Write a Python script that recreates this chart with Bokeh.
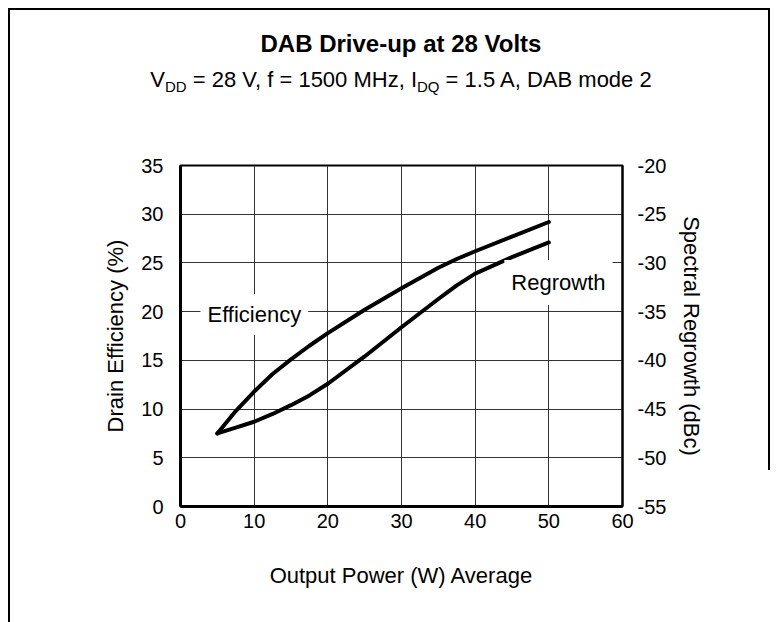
from bokeh.plotting import figure
from bokeh.layouts import column
from bokeh.models import Range1d, LinearAxis, SingleIntervalTicker, Label, PrintfTickFormatter, Div
from bokeh.embed import file_html
from bokeh.resources import INLINE

# ---- data ----
power_w = [5, 7.5, 10, 12.5, 15, 17.5, 20, 25, 30, 35, 37.5, 40, 45, 50]
efficiency_pct = [7.5, 9.8, 11.8, 13.6, 15.1, 16.5, 17.8, 20.2, 22.4, 24.5, 25.4, 26.2, 27.7, 29.2]
regrowth_dbc = [-47.5, -46.9, -46.3, -45.5, -44.6, -43.6, -42.4, -39.6, -36.6, -33.7, -32.3, -31.1, -29.4, -27.9]

title_text = "DAB Drive-up at 28 Volts"
subtitle_parts = ["V", "DD", " = 28 V, f = 1500 MHz, I", "DQ", " = 1.5 A, DAB mode 2"]
x_label = "Output Power (W) Average"
y_label = "Drain Efficiency (%)"
y2_label = "Spectral Regrowth (dBc)"

FONT = "Liberation Sans"
W = 778
HDR_H = 120

def gradients(specs):
    imgs = ", ".join(["linear-gradient(#000,#000)"] * len(specs))
    return {
        "background-color": "white",
        "background-image": imgs,
        "background-size": ", ".join(s for s, _ in specs),
        "background-position": ", ".join(pz for _, pz in specs),
        "background-repeat": "no-repeat",
        "margin": "0",
        "padding": "0",
    }

# ---------- header (title + subtitle) ----------
sub_style = "font-size:15px;position:relative;top:5px"
sub_html = (subtitle_parts[0] + f'<span style="{sub_style}">{subtitle_parts[1]}</span>'
            + subtitle_parts[2] + f'<span style="{sub_style}">{subtitle_parts[3]}</span>'
            + subtitle_parts[4])
hdr_html = (
    f'<div style="position:relative;width:{W}px;height:{HDR_H}px;font-family:\'{FONT}\';color:#000">'
    f'<div style="position:absolute;left:0;top:32px;width:802px;text-align:center;font-size:24px;'
    f'line-height:24px;font-weight:bold;white-space:nowrap">{title_text}</div>'
    f'<div style="position:absolute;left:0;top:69px;width:802px;text-align:center;font-size:22px;'
    f'line-height:22px;white-space:nowrap">{sub_html}</div>'
    '</div>'
)
hdr = Div(text=hdr_html, width=W, height=HDR_H, styles=gradients([
    ("2px 112px", "8px 8px"),
    ("762px 2px", "8px 8px"),
    ("2px 112px", "768px 8px"),
]))

# ---------- main chart ----------
p = figure(
    output_backend="svg", toolbar_location=None,
    frame_width=442, frame_height=341,
    min_border_left=180, min_border_right=156, min_border_top=45, min_border_bottom=116,
    x_range=Range1d(0, 60), y_range=Range1d(0, 35),
)
p.extra_y_ranges = {"regrowth": Range1d(-55, -20)}

p.border_fill_color = None
p.background_fill_color = "white"
p.outline_line_color = "black"
p.outline_line_width = 2
p.styles = gradients([
    ("2px 502px", "8px 0px"),
    ("2px 350px", "768px 0px"),
])

def style_axis(ax, lw):
    ax.major_tick_line_color = None
    ax.minor_tick_line_color = None
    ax.major_tick_out = 0
    ax.major_tick_in = 0
    ax.axis_line_color = "black"
    ax.axis_line_width = lw
    ax.major_label_text_font = FONT
    ax.major_label_text_font_size = "20px"
    ax.major_label_text_color = "black"
    ax.axis_label_text_font = FONT
    ax.axis_label_text_font_size = "22px"
    ax.axis_label_text_font_style = "normal"
    ax.axis_label_text_color = "black"

p.xaxis.ticker = SingleIntervalTicker(interval=10)
p.yaxis.ticker = SingleIntervalTicker(interval=5)
p.xaxis.axis_label = x_label
p.yaxis.axis_label = y_label
style_axis(p.xaxis[0], 3)
style_axis(p.yaxis[0], 3)
p.xaxis.major_label_standoff = 3
p.xaxis.axis_label_standoff = 32
p.yaxis.major_label_standoff = 13
p.yaxis.axis_label_standoff = 10

y2 = LinearAxis(y_range_name="regrowth", ticker=SingleIntervalTicker(interval=5),
                formatter=PrintfTickFormatter(format="%d"), axis_label=y2_label)
style_axis(y2, 2)
y2.major_label_standoff = 11
y2.axis_label_standoff = 10
p.add_layout(y2, "right")

p.xgrid.ticker = SingleIntervalTicker(interval=10)
p.ygrid.ticker = SingleIntervalTicker(interval=5)
for g in (p.xgrid[0], p.ygrid[0]):
    g.grid_line_color = "#333333"
    g.grid_line_width = 1

p.line(power_w, efficiency_pct, line_color="black", line_width=4, line_join="round", line_cap="round")
p.line(power_w, regrowth_dbc, y_range_name="regrowth", line_color="black", line_width=4,
       line_join="round", line_cap="round")

# series labels with white boxes
p.add_layout(Label(x=2.71, y=19.7, text="Efficiency", text_align="left", text_baseline="middle",
                   text_font=FONT, text_font_size="22px", text_color="black",
                   background_fill_color="white", padding=(7, 8)))
p.add_layout(Label(x=43.96, y=-32.0, y_range_name="regrowth", text="Regrowth", text_align="left",
                   text_baseline="middle", text_font=FONT, text_font_size="22px", text_color="black",
                   background_fill_color="white", padding=(7, 10)))

layout = column(hdr, p, spacing=0)
open("out.html", "w").write(file_html(layout, INLINE))
